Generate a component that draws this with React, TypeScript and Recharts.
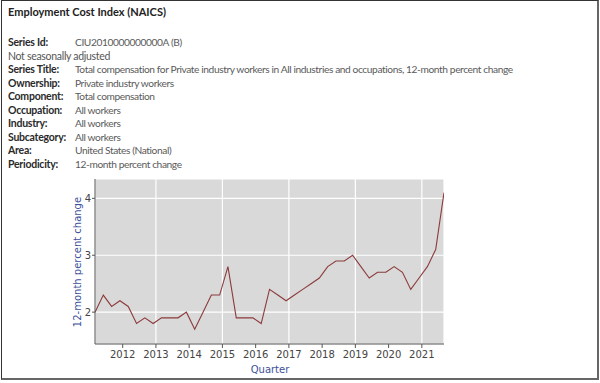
import React from 'react';
import { LineChart, Line, XAxis, YAxis, CartesianGrid } from 'recharts';

// quarterly reference months, 12-month percent change
const periods = [
  '2011-03', '2011-06', '2011-09', '2011-12',
  '2012-03', '2012-06', '2012-09', '2012-12',
  '2013-03', '2013-06', '2013-09', '2013-12',
  '2014-03', '2014-06', '2014-09', '2014-12',
  '2015-03', '2015-06', '2015-09', '2015-12',
  '2016-03', '2016-06', '2016-09', '2016-12',
  '2017-03', '2017-06', '2017-09', '2017-12',
  '2018-03', '2018-06', '2018-09', '2018-12',
  '2019-03', '2019-06', '2019-09', '2019-12',
  '2020-03', '2020-06', '2020-09', '2020-12',
  '2021-03', '2021-06', '2021-09',
];
const pctChange = [
  2.0, 2.3, 2.1, 2.2,
  2.1, 1.8, 1.9, 1.8,
  1.9, 1.9, 1.9, 2.0,
  1.7, 2.0, 2.3, 2.3,
  2.8, 1.9, 1.9, 1.9,
  1.8, 2.4, 2.3, 2.2,
  2.3, 2.4, 2.5, 2.6,
  2.8, 2.9, 2.9, 3.0,
  2.8, 2.6, 2.7, 2.7,
  2.8, 2.7, 2.4, 2.6,
  2.8, 3.1, 4.1,
];
const yearTicks = [2012, 2013, 2014, 2015, 2016, 2017, 2018, 2019, 2020, 2021];
const pctTicks = [2, 3, 4];

const metaRows = [
  ['Series Id:', 'CIU2010000000000A (B)'],
  ['Not seasonally adjusted', ''],
  ['Series Title:', 'Total compensation for Private industry workers in All industries and occupations, 12-month percent change'],
  ['Ownership:', 'Private industry workers'],
  ['Component:', 'Total compensation'],
  ['Occupation:', 'All workers'],
  ['Industry:', 'All workers'],
  ['Subcategory:', 'All workers'],
  ['Area:', 'United States (National)'],
  ['Periodicity:', '12-month percent change'],
];

const data = periods.map((p, i) => {
  const [yr, mo] = p.split('-').map(Number);
  return { t: yr + (mo - 1) / 12, pct: pctChange[i] };
});

const X_DOMAIN: [number, number] = [2011 + 2 / 12, 2021 + 8 / 12];
const Y_DOMAIN: [number, number] = [1.44, 4.34];
const AXIS = '#555';
const TITLE_BLUE = '#3d4f9a';
const headFont = 'Lato, "Open Sans", sans-serif';

export default function App() {
  return (
    <div style={{ position: 'absolute', left: 0, top: 0, width: 600, height: 383, background: '#fff', overflow: 'hidden' }}>
      <div style={{ position: 'absolute', left: 1, top: 0, width: 595, height: 377, borderTop: '1px solid #333', borderLeft: '1px solid #333', borderRight: '2px solid #666', borderBottom: '2px solid #666' }} />

      <div style={{ position: 'absolute', left: 8, top: 5, fontFamily: headFont, fontWeight: 700, fontSize: 11, color: '#222', whiteSpace: 'nowrap' }}>
        Employment Cost Index (NAICS)
      </div>
      {metaRows.map(([k, v], i) => (
        <div key={i} style={{ position: 'absolute', left: 8, top: 35 + i * 13.5, height: 14, fontFamily: headFont, whiteSpace: 'nowrap' }}>
          <span style={{ position: 'absolute', left: 0, top: 0, lineHeight: '14px', fontSize: 10.5, letterSpacing: v ? -0.25 : -0.3, fontWeight: v ? 700 : 400, color: v ? '#2a2a2a' : '#555' }}>{k}</span>
          {v && <span style={{ position: 'absolute', left: 67, top: 0, lineHeight: '14px', fontSize: 10.2, letterSpacing: -0.4, color: '#5a5a5a' }}>{v}</span>}
        </div>
      ))}

      <div style={{ position: 'absolute', left: 0, top: 0 }}>
        <LineChart width={600} height={383} data={data} margin={{ top: 179, right: 156, bottom: 9, left: 65 }}
          style={{ fontFamily: '"DejaVu Sans", sans-serif' }}>
          <CartesianGrid fill="#d9d9d9" stroke="#ffffff" strokeWidth={1.2} />
          <XAxis type="number" dataKey="t" domain={X_DOMAIN} ticks={yearTicks} allowDataOverflow
            height={30} stroke={AXIS} tickSize={4} tickMargin={3}
            tick={{ fill: '#444', fontSize: 10 }} />
          <XAxis xAxisId="top" orientation="top" type="number" dataKey="t" domain={X_DOMAIN} allowDataOverflow
            height={0} stroke={AXIS} tick={false} tickLine={false} />
          <YAxis type="number" domain={Y_DOMAIN} ticks={pctTicks} allowDataOverflow
            width={30} stroke={AXIS} tickSize={3} tickMargin={1}
            tick={{ fill: '#444', fontSize: 10 }} />
          <YAxis yAxisId="right" orientation="right" type="number" domain={Y_DOMAIN} allowDataOverflow
            width={0} stroke={AXIS} tick={false} tickLine={false} />
          <Line type="linear" dataKey="pct" stroke="#8c3b3b" strokeWidth={1.1} dot={false} isAnimationActive={false} />
        </LineChart>
      </div>

      <div style={{ position: 'absolute', left: 77, top: 262, width: 0, height: 0 }}>
        <div style={{ position: 'absolute', transform: 'translate(-50%, -50%) rotate(-90deg)', fontFamily: '"DejaVu Sans", sans-serif', fontSize: 10, color: TITLE_BLUE, whiteSpace: 'nowrap' }}>
          12-month percent change
        </div>
      </div>
      <div style={{ position: 'absolute', left: 220, width: 100, top: 364, textAlign: 'center', fontFamily: '"DejaVu Sans", sans-serif', fontSize: 10, color: TITLE_BLUE }}>
        Quarter
      </div>
    </div>
  );
}
